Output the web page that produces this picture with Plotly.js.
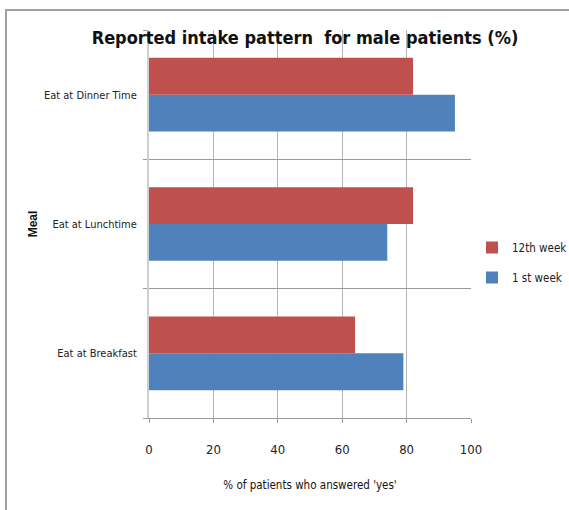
<!DOCTYPE html>
<html>
<head>
<meta charset="utf-8">
<script src="https://cdn.plot.ly/plotly-3.0.1.min.js"></script>
<style>
  html, body { margin: 0; padding: 0; background: #fff; }
  #chart { width: 569px; height: 510px; }
</style>
</head>
<body>
<div id="chart"></div>
<script>
// Data
const meals = ["Eat at Breakfast", "Eat at Lunchtime", "Eat at Dinner Time"];
const week1 = [79, 74, 95];   // 1 st week
const week12 = [64, 82, 82];  // 12th week
const seriesNames = ["1 st week", "12th week"];
const xTicks = [0, 20, 40, 60, 80, 100];

const FONT = "'DejaVu Sans Condensed', 'Liberation Sans Narrow', 'Liberation Sans', sans-serif";

const L = 149, R = 98, T = 30, B = 92, W = 569, H = 510;
const pw = W - L - R, ph = H - T - B;
const px = v => (v - L) / pw;
const py = v => (H - B - v) / ph;

const traces = [
  {
    type: "bar", orientation: "h", name: seriesNames[0],
    y: meals, x: week1, marker: { color: "#4F81BD" },
    legendgroup: "a", legendrank: 2, hoverinfo: "x+y"
  },
  {
    type: "bar", orientation: "h", name: seriesNames[1],
    y: meals, x: week12, marker: { color: "#C0504D" },
    legendgroup: "b", legendrank: 1, hoverinfo: "x+y"
  }
];

const layout = {
  width: W, height: H,
  margin: { l: L, r: R, t: T, b: B, pad: 0, autoexpand: false },
  paper_bgcolor: "#fff", plot_bgcolor: "#fff",
  barmode: "group", bargap: 0.43, bargroupgap: 0,
  font: { family: FONT, color: "#222", size: 12 },
  title: {
    text: "Reported intake pattern  for male patients (%)",
    font: { family: FONT, size: 18, color: "#111", weight: "bold" },
    x: 305 / W, xref: "container", xanchor: "center",
    y: 1 - 38 / H, yref: "container", yanchor: "middle"
  },
  xaxis: {
    range: [0, 100], tickvals: xTicks, ticktext: xTicks.map(String),
    showgrid: true, gridcolor: "#b5b5b5", gridwidth: 1,
    zeroline: false,
    showline: true, linecolor: "#999", linewidth: 1,
    ticks: "outside", ticklen: 4, tickcolor: "#999",
    ticklabelstandoff: 15,
    tickfont: { family: FONT, size: 13, color: "#222" },
    title: { text: "% of patients who answered 'yes'", font: { family: FONT, size: 11.5, color: "#111" }, standoff: 25 },
    fixedrange: true
  },
  yaxis: {
    type: "category", categoryorder: "array", categoryarray: meals,
    range: [-0.5, 2.5],
    tickson: "boundaries",
    showgrid: true, gridcolor: "#999", gridwidth: 1,
    zeroline: false,
    showline: true, linecolor: "#cfcfcf", linewidth: 2,
    ticks: "outside", ticklen: 4, tickcolor: "#999",
    ticklabelstandoff: 8,
    tickfont: { family: FONT, size: 11, color: "#222" },
    title: { text: "Meal", font: { family: "'Liberation Sans', Arial, sans-serif", size: 12, color: "#111", weight: "bold" }, standoff: 4 },
    fixedrange: true
  },
  legend: {
    x: 472 / W, xanchor: "left", xref: "container",
    y: 1 - 233 / H, yanchor: "top", yref: "container",
    traceorder: "grouped", tracegroupgap: 11,
    font: { family: FONT, size: 11.5, color: "#222" },
    bgcolor: "rgba(0,0,0,0)", borderwidth: 0
  },
  shapes: [
    { type: "line", xref: "paper", yref: "paper", x0: px(6), x1: px(6), y0: py(10), y1: py(510),
      line: { color: "#a0a0a0", width: 2 } },
    { type: "line", xref: "paper", yref: "paper", x0: px(5), x1: px(569), y0: py(10), y1: py(10),
      line: { color: "#a0a0a0", width: 2 } }
  ]
};

Plotly.newPlot("chart", traces, layout, { displayModeBar: false, staticPlot: true });
</script>
</body>
</html>
